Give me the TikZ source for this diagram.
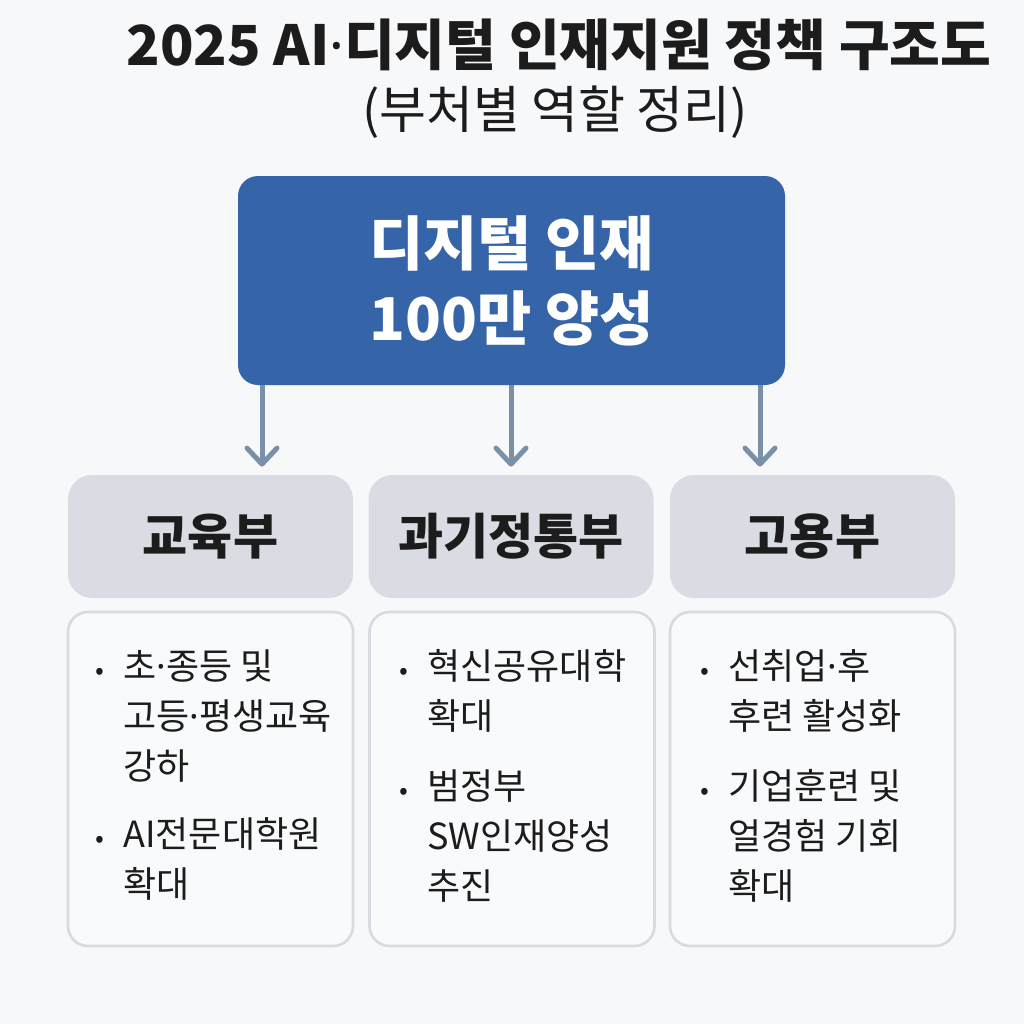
\documentclass[tikz,border=0pt]{standalone}
\usepackage{fontspec}
\setmainfont{Noto Sans CJK KR}
\newfontfamily\latinfont{Noto Sans}
\usetikzlibrary{arrows.meta}
\definecolor{bg}{HTML}{F7F8FA}
\definecolor{mainblue}{HTML}{3565A8}
\definecolor{arrowc}{HTML}{7A90A6}
\definecolor{minfill}{HTML}{D9DDE3}
\definecolor{cardfill}{HTML}{F9FAFB}
\definecolor{cardline}{HTML}{D5DBE1}
\definecolor{ink}{HTML}{1C1C1C}
\newcommand{\bul}{\llap{\makebox[12pt]{\fontsize{13}{13}\selectfont •}\hspace{5.5pt}}}
\newcommand{\md}{{\latinfont ·}}
\tikzset{
  mainbox/.style={fill=mainblue, rounded corners=10pt, text=white, align=center,
    font=\bfseries\fontsize{29.5}{37.5}\selectfont, minimum width=273.5pt, minimum height=104.5pt},
  minbox/.style={fill=minfill, rounded corners=12pt, text=ink,
    font=\bfseries\fontsize{24.5}{28}\selectfont, minimum width=142.5pt, minimum height=61.5pt},
  cardbox/.style={fill=cardfill, draw=cardline, line width=1.3pt, rounded corners=10pt,
    minimum width=142.5pt, minimum height=167pt},
  cardtext/.style={anchor=north west, inner sep=0pt, align=left, text=ink,
    font=\fontsize{18}{25}\selectfont},
  arr/.style={draw=arrowc, line width=2.5pt, -{Straight Barb[length=8pt,width=15pt,round]}, shorten >=4pt}
}
\begin{document}
\begin{tikzpicture}[x=0.5pt,y=-0.5pt]
\fill[bg] (0,0) rectangle (1024,1024);
\node[font=\bfseries\fontsize{27.6}{32}\selectfont, text=ink] (title) at (559,45) {2025 AI\md 디지털 인재지원 정책 구조도};
\node[font=\fontsize{25.5}{29}\selectfont, text=ink] (sub) at (555,112) {(부처별 역할 정리)};

\node[mainbox] (main) at (511.5,280.5) {디지털 인재\\100만 양성};

\node[minbox] (m1) at (210.5,536.5) {교육부};
\node[minbox] (m2) at (511,536.5) {과기정통부};
\node[minbox] (m3) at (812.5,536.5) {고용부};

\coordinate (x1) at (262,0);
\coordinate (x2) at (511,0);
\coordinate (x3) at (760,0);
\draw[arr] (main.south -| x1) -- (m1.north -| x1);
\draw[arr] (main.south -| x2) -- (m2.north -| x2);
\draw[arr] (main.south -| x3) -- (m3.north -| x3);

\node[cardbox] (c1) at (210.5,779) {};
\node[cardbox] (c2) at (512,779) {};
\node[cardbox] (c3) at (812.5,779) {};

\node[cardtext] (t1) at (123,649) {\bul 초\md 종등 및\\고등\md 평생교육\\강하\\[9pt]\bul AI전문대학원\\확대};
\node[cardtext] (t2) at (427,649) {\bul 혁신공유대학\\확대\\[10pt]\bul 범정부\\SW인재양성\\추진};
\node[cardtext] (t3) at (728,649) {\bul 선취업\md 후\\후련 활성화\\[10pt]\bul 기업훈련 및\\얼경험 기회\\확대};
\end{tikzpicture}
\end{document}
